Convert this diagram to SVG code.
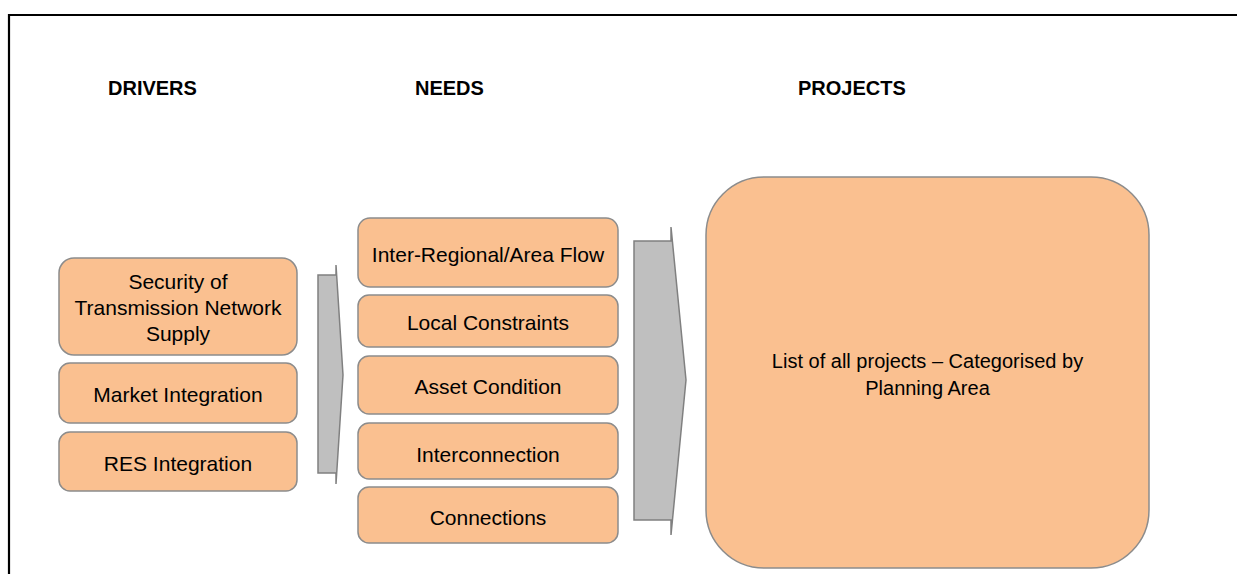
<svg xmlns="http://www.w3.org/2000/svg" width="1237" height="574" viewBox="0 0 1237 574">
<style>
.box{fill:#FAC090;stroke:#8C8C8C;stroke-width:1.5}
.arrow{fill:#BFBFBF;stroke:#808080;stroke-width:1.5;stroke-linejoin:miter}
.t{font-family:"Liberation Sans",Arial,sans-serif;font-size:21px;fill:#000;text-anchor:middle}
.h{font-family:"Liberation Sans",Arial,sans-serif;font-size:20px;font-weight:bold;fill:#000}
.p{font-family:"Liberation Sans",Arial,sans-serif;font-size:20px;fill:#000;text-anchor:middle}
</style>
<rect width="1237" height="574" fill="#fff"/>
<path d="M9,574 V15 H1237" fill="none" stroke="#000" stroke-width="2.2"/>
<g id="headers">
<text class="h" x="108" y="95">DRIVERS</text>
<text class="h" x="415" y="95">NEEDS</text>
<text class="h" x="798" y="95">PROJECTS</text>
</g>
<g id="driver-security">
<rect class="box" x="59" y="258" width="238" height="97" rx="15"/>
<text class="t" x="178" y="289">Security of</text>
<text class="t" x="178" y="315">Transmission Network</text>
<text class="t" x="178" y="341">Supply</text>
</g>
<g id="driver-market">
<rect class="box" x="59" y="363" width="238" height="60" rx="11"/>
<text class="t" x="178" y="402">Market Integration</text>
</g>
<g id="driver-res">
<rect class="box" x="59" y="432" width="238" height="59" rx="11"/>
<text class="t" x="178" y="471">RES Integration</text>
</g>
<g id="connectors">
<polygon class="arrow" points="318,275 336,275 336,265 343,375 336,484 336,473 318,473"/>
<polygon class="arrow" points="634,241 671,241 671,227 686,380 671,535 671,520 634,520"/>
</g>
<g id="need-flow">
<rect class="box" x="358" y="218" width="260" height="69" rx="12"/>
<text class="t" x="488" y="262">Inter-Regional/Area Flow</text>
</g>
<g id="need-local">
<rect class="box" x="358" y="295" width="260" height="52" rx="11"/>
<text class="t" x="488" y="330">Local Constraints</text>
</g>
<g id="need-asset">
<rect class="box" x="358" y="356" width="260" height="58" rx="11"/>
<text class="t" x="488" y="394">Asset Condition</text>
</g>
<g id="need-interconnection">
<rect class="box" x="358" y="423" width="260" height="56" rx="11"/>
<text class="t" x="488" y="462">Interconnection</text>
</g>
<g id="need-connections">
<rect class="box" x="358" y="487" width="260" height="56" rx="11"/>
<text class="t" x="488" y="525">Connections</text>
</g>
<g id="projects">
<rect class="box" x="706" y="177" width="443" height="391" rx="58"/>
<text class="p" x="927.5" y="368">List of all projects – Categorised by</text>
<text class="p" x="927.5" y="395">Planning Area</text>
</g>
</svg>
